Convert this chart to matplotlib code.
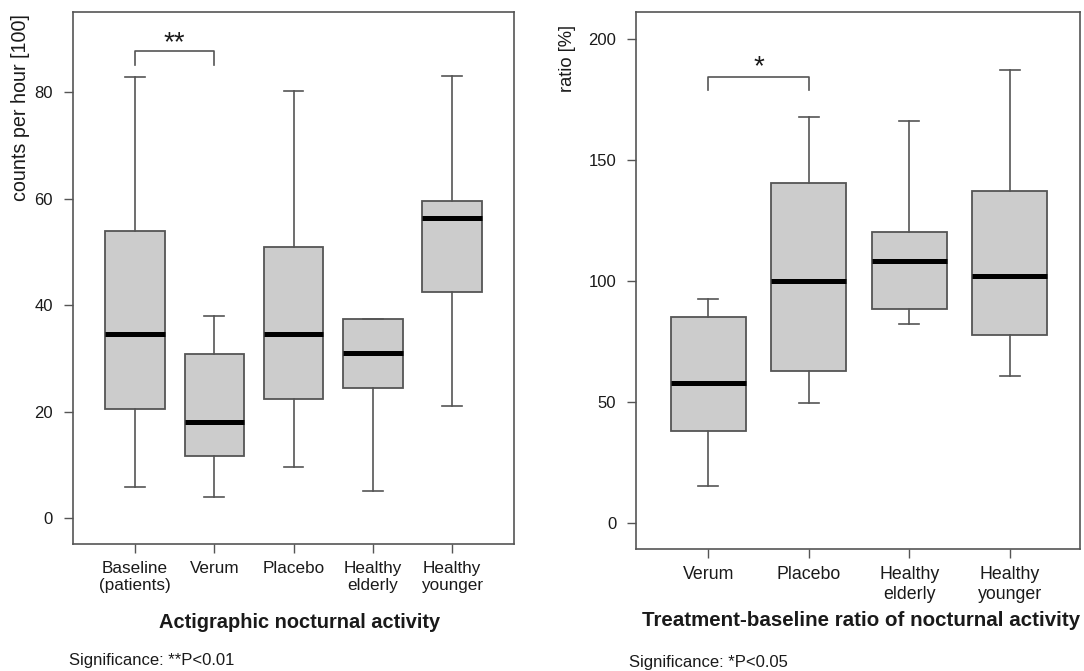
import matplotlib
matplotlib.use('Agg')
import matplotlib.pyplot as plt

plt.rcParams['font.family'] = ['Liberation Sans', 'DejaVu Sans']

W, H = 1084, 671

# left panel: actigraphic nocturnal activity (counts per hour [100])
act_groups = ['Baseline\n(patients)', 'Verum', 'Placebo', 'Healthy\nelderly', 'Healthy\nyounger']
act_whislo = [5.9, 3.9, 9.6, 5.1, 21.1]
act_q1 = [20.5, 11.6, 22.3, 24.4, 42.5]
act_med = [34.6, 18.1, 34.5, 31.0, 56.4]
act_q3 = [53.9, 30.9, 51.0, 37.4, 59.6]
act_whishi = [82.8, 37.9, 80.3, 37.4, 83.1]
act_ticks = [0, 20, 40, 60, 80]

# right panel: treatment-baseline ratio (%)
ratio_groups = ['Verum', 'Placebo', 'Healthy\nelderly', 'Healthy\nyounger']
ratio_whislo = [15.2, 49.8, 82.2, 60.8]
ratio_q1 = [38.3, 62.9, 88.3, 77.6]
ratio_med = [57.8, 100.2, 108.5, 102.3]
ratio_q3 = [85.2, 140.5, 120.3, 137.1]
ratio_whishi = [92.6, 167.8, 166.3, 187.1]
ratio_ticks = [0, 50, 100, 150, 200]

FILL = '#cccccc'
EDGE = '#555555'
TXT = '#1a1a1a'


def make_stats(lo, q1, med, q3, hi):
    return [dict(whislo=a, q1=b, med=c, q3=d, whishi=e, fliers=[])
            for a, b, c, d, e in zip(lo, q1, med, q3, hi)]


def draw_panel(ax, stats, labels, yticks, xlim, ylim, capw, xfs, xpad):
    pos = list(range(1, len(stats) + 1))
    ax.bxp(stats, positions=pos, widths=0.75, capwidths=capw,
           patch_artist=True, showfliers=False,
           boxprops=dict(facecolor=FILL, edgecolor=EDGE, linewidth=1.3),
           medianprops=dict(color='black', linewidth=3.6, solid_capstyle='butt'),
           whiskerprops=dict(color=EDGE, linewidth=1.2),
           capprops=dict(color=EDGE, linewidth=1.2))
    ax.set_xlim(*xlim)
    ax.set_ylim(*ylim)
    ax.set_xticks(pos)
    ax.set_xticklabels(labels, fontsize=xfs, color=TXT, linespacing=1.2)
    ax.set_yticks(yticks)
    ax.set_yticklabels([str(t) for t in yticks], fontsize=12, color=TXT)
    ax.tick_params(axis='both', direction='out', length=6.3, width=1.0,
                   color=EDGE)
    ax.tick_params(axis='y', pad=8)
    ax.tick_params(axis='x', pad=xpad)
    for s in ax.spines.values():
        s.set_color(EDGE)
        s.set_linewidth(1.2)


def bracket(ax, x0, x1, ytop, ybot, label, ytxt):
    ax.plot([x0, x0, x1, x1], [ybot, ytop, ytop, ybot], color=EDGE,
            linewidth=1.2, clip_on=False)
    ax.text((x0 + x1) / 2, ytxt, label, ha='center', va='center',
            fontsize=20, color=TXT)


fig = plt.figure(figsize=(W / 100, H / 100), dpi=100)

ax1 = fig.add_axes([72.7 / W, 1 - 544.3 / H, 441.3 / W, 532.0 / H])
draw_panel(ax1, make_stats(act_whislo, act_q1, act_med, act_q3, act_whishi),
           act_groups, act_ticks, (0.214, 5.78), (-4.94, 95.04), 0.25, 12.3, 5.5)
bracket(ax1, 1, 2, 87.8, 85.2, '**', 89.3)

ax2 = fig.add_axes([636 / W, 1 - 549.3 / H, 444 / W, 537.0 / H])
draw_panel(ax2, make_stats(ratio_whislo, ratio_q1, ratio_med, ratio_q3, ratio_whishi),
           ratio_groups, ratio_ticks, (0.281, 4.70), (-10.74, 211.0), 0.2, 12.8, 6)
bracket(ax2, 1, 2, 184.4, 178.9, '*', 188.5)

# axis labels placed near the top, as in the original
fig.text(21 / W, 1 - 14 / H, 'counts per hour [100]', rotation=90,
         ha='center', va='top', fontsize=14.2, color=TXT)
fig.text(568 / W, 1 - 25 / H, 'ratio [%]', rotation=90,
         ha='center', va='top', fontsize=13.2, color=TXT)

fig.text(300 / W, 1 - 622 / H, 'Actigraphic nocturnal activity',
         ha='center', va='center', fontsize=14.4, fontweight='bold', color=TXT)
fig.text(861 / W, 1 - 620 / H, 'Treatment-baseline ratio of nocturnal activity',
         ha='center', va='center', fontsize=14.8, fontweight='bold', color=TXT)

fig.text(69 / W, 1 - 660 / H, 'Significance: **P<0.01',
         ha='left', va='center', fontsize=12, color=TXT)
fig.text(629 / W, 1 - 662 / H, 'Significance: *P<0.05',
         ha='left', va='center', fontsize=12, color=TXT)

fig.savefig('out.png', dpi=100, facecolor='white')
